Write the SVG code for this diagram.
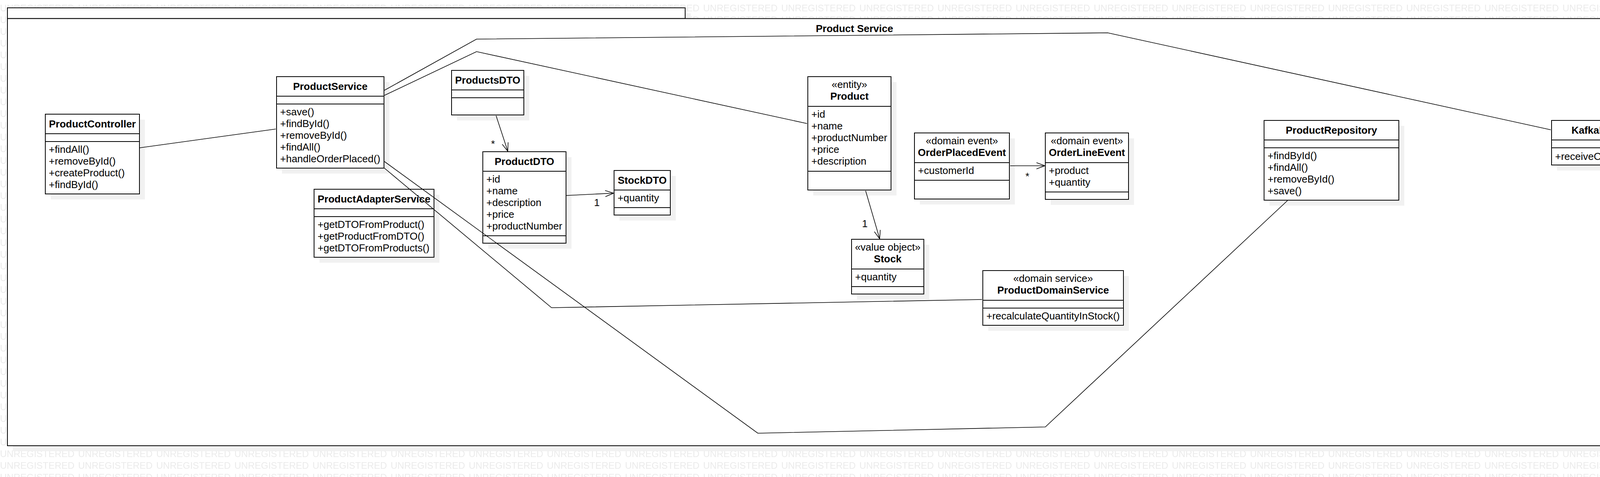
<svg xmlns="http://www.w3.org/2000/svg" width="4436" height="1220" viewBox="0 0 4436 1220">
<defs>
<style>
text{font-family:"Liberation Sans",Arial,Helvetica,sans-serif;font-size:26px;fill:#000}
.n{font-weight:bold;text-anchor:middle}
.st{text-anchor:middle}
.c{text-anchor:middle}
.box{fill:#fff;stroke:#000;stroke-width:2}
.sh{fill:#f1f1f1}
.dv{stroke:#000;stroke-width:2}
.cn{fill:none;stroke:#000;stroke-width:1.6}
.wm{font-size:24px;fill:#ebebeb}
</style>
<pattern id="wmp" patternUnits="userSpaceOnUse" x="0" y="0" width="200" height="30"><text class="wm" x="0" y="29">UNREGISTERED</text></pattern>
<marker id="ar" markerUnits="userSpaceOnUse" viewBox="-24 -10 26 20" refX="0" refY="0" markerWidth="26" markerHeight="20" orient="auto" overflow="visible"><path d="M-21.6,-7.9 L0,0 L-21.6,7.9" fill="none" stroke="#000" stroke-width="1.6"/></marker>
</defs>
<rect x="0" y="0" width="4436" height="1220" fill="#fff"/>
<rect x="0" y="0" width="4436" height="1220" fill="url(#wmp)"/>

<g id="package-ProductService">
<rect class="sh" x="33" y="34" width="1735" height="27.5"/>
<rect class="sh" x="33" y="61.5" width="4337" height="1092.5"/>
<rect class="box" x="19" y="20" width="1735" height="27.5"/>
<rect class="box" x="19" y="47.5" width="4337" height="1092.5"/>
<text class="n" x="2187.5" y="82">Product Service</text>
</g>

<g id="ProductController">
<rect class="sh" x="130" y="306" width="241" height="204"/>
<rect class="box" x="116" y="292" width="241" height="204"/>
<line class="dv" x1="116" y1="342" x2="357" y2="342"/>
<line class="dv" x1="116" y1="362" x2="357" y2="362"/>
<text class="n" x="236.5" y="326">ProductController</text>
<text x="125" y="391">+findAll()</text>
<text x="125" y="421">+removeById()</text>
<text x="125" y="451">+createProduct()</text>
<text x="125" y="481">+findById()</text>
</g>

<g id="ProductService">
<rect class="sh" x="722" y="210" width="275" height="234"/>
<rect class="box" x="708" y="196" width="275" height="234"/>
<line class="dv" x1="708" y1="246" x2="983" y2="246"/>
<line class="dv" x1="708" y1="266" x2="983" y2="266"/>
<text class="n" x="845.5" y="230">ProductService</text>
<text x="717" y="295">+save()</text>
<text x="717" y="325">+findById()</text>
<text x="717" y="355">+removeById()</text>
<text x="717" y="385">+findAll()</text>
<text x="717" y="415">+handleOrderPlaced()</text>
</g>

<g id="ProductAdapterService">
<rect class="sh" x="818" y="498" width="307" height="174"/>
<rect class="box" x="804" y="484" width="307" height="174"/>
<line class="dv" x1="804" y1="534" x2="1111" y2="534"/>
<line class="dv" x1="804" y1="554" x2="1111" y2="554"/>
<text class="n" x="957.5" y="518">ProductAdapterService</text>
<text x="813" y="583">+getDTOFromProduct()</text>
<text x="813" y="613">+getProductFromDTO()</text>
<text x="813" y="643">+getDTOFromProducts()</text>
</g>

<g id="ProductsDTO">
<rect class="sh" x="1170" y="194" width="185" height="114"/>
<rect class="box" x="1156" y="180" width="185" height="114"/>
<line class="dv" x1="1156" y1="230" x2="1341" y2="230"/>
<line class="dv" x1="1156" y1="250" x2="1341" y2="250"/>
<text class="n" x="1248.5" y="214">ProductsDTO</text>
</g>

<g id="ProductDTO">
<rect class="sh" x="1250" y="402" width="213" height="234"/>
<rect class="box" x="1236" y="388" width="213" height="234"/>
<line class="dv" x1="1236" y1="438" x2="1449" y2="438"/>
<line class="dv" x1="1236" y1="603" x2="1449" y2="603"/>
<text class="n" x="1342.5" y="422">ProductDTO</text>
<text x="1245" y="467">+id</text>
<text x="1245" y="497">+name</text>
<text x="1245" y="527">+description</text>
<text x="1245" y="557">+price</text>
<text x="1245" y="587">+productNumber</text>
</g>

<g id="StockDTO">
<rect class="sh" x="1586" y="450" width="144" height="114"/>
<rect class="box" x="1572" y="436" width="144" height="114"/>
<line class="dv" x1="1572" y1="486" x2="1716" y2="486"/>
<line class="dv" x1="1572" y1="531" x2="1716" y2="531"/>
<text class="n" x="1644" y="470">StockDTO</text>
<text x="1581" y="515">+quantity</text>
</g>

<g id="Product">
<rect class="sh" x="2082" y="210" width="213" height="290"/>
<rect class="box" x="2068" y="196" width="213" height="290"/>
<line class="dv" x1="2068" y1="272" x2="2281" y2="272"/>
<line class="dv" x1="2068" y1="438" x2="2281" y2="438"/>
<text class="st" x="2174.5" y="225.4">«entity»</text>
<text class="n" x="2174.5" y="255.4">Product</text>
<text x="2077" y="301">+id</text>
<text x="2077" y="331">+name</text>
<text x="2077" y="361">+productNumber</text>
<text x="2077" y="391">+price</text>
<text x="2077" y="421">+description</text>
</g>

<g id="Stock">
<rect class="sh" x="2194" y="626" width="185" height="140"/>
<rect class="box" x="2180" y="612" width="185" height="140"/>
<line class="dv" x1="2180" y1="688" x2="2365" y2="688"/>
<line class="dv" x1="2180" y1="733" x2="2365" y2="733"/>
<text class="st" x="2272.5" y="641.4">«value object»</text>
<text class="n" x="2272.5" y="671.4">Stock</text>
<text x="2189" y="717">+quantity</text>
</g>

<g id="OrderPlacedEvent">
<rect class="sh" x="2355" y="354" width="243" height="169"/>
<rect class="box" x="2341" y="340" width="243" height="169"/>
<line class="dv" x1="2341" y1="416" x2="2584" y2="416"/>
<line class="dv" x1="2341" y1="461" x2="2584" y2="461"/>
<text class="st" x="2462.5" y="369.4">«domain event»</text>
<text class="n" x="2462.5" y="399.4">OrderPlacedEvent</text>
<text x="2350" y="445">+customerId</text>
</g>

<g id="OrderLineEvent">
<rect class="sh" x="2690" y="354" width="213" height="170"/>
<rect class="box" x="2676" y="340" width="213" height="170"/>
<line class="dv" x1="2676" y1="416" x2="2889" y2="416"/>
<line class="dv" x1="2676" y1="491" x2="2889" y2="491"/>
<text class="st" x="2782.5" y="369.4">«domain event»</text>
<text class="n" x="2782.5" y="399.4">OrderLineEvent</text>
<text x="2685" y="445">+product</text>
<text x="2685" y="475">+quantity</text>
</g>

<g id="ProductDomainService">
<rect class="sh" x="2530" y="706" width="360" height="140"/>
<rect class="box" x="2516" y="692" width="360" height="140"/>
<line class="dv" x1="2516" y1="768" x2="2876" y2="768"/>
<line class="dv" x1="2516" y1="788" x2="2876" y2="788"/>
<text class="st" x="2696" y="721.4">«domain service»</text>
<text class="n" x="2696" y="751.4">ProductDomainService</text>
<text x="2525" y="817">+recalculateQuantityInStock()</text>
</g>

<g id="ProductRepository">
<rect class="sh" x="3250" y="322" width="345" height="204"/>
<rect class="box" x="3236" y="308" width="345" height="204"/>
<line class="dv" x1="3236" y1="358" x2="3581" y2="358"/>
<line class="dv" x1="3236" y1="378" x2="3581" y2="378"/>
<text class="n" x="3408.5" y="342">ProductRepository</text>
<text x="3245" y="407">+findById()</text>
<text x="3245" y="437">+findAll()</text>
<text x="3245" y="467">+removeById()</text>
<text x="3245" y="497">+save()</text>
</g>

<g id="KafkaReceiver">
<rect class="sh" x="3986" y="322" width="281" height="114"/>
<rect class="box" x="3972" y="308" width="281" height="114"/>
<line class="dv" x1="3972" y1="358" x2="4253" y2="358"/>
<line class="dv" x1="3972" y1="378" x2="4253" y2="378"/>
<text class="n" x="4112.5" y="342">KafkaReceiver</text>
<text x="3981" y="409">+receiveOrderPlaced()</text>
</g>

<g id="connectors">
<polyline class="cn" points="358,378 706,330"/>
<polyline class="cn" points="984,231 1220,100 2836,84 3970,332"/>
<polyline class="cn" points="984,244 1220,132 2066,316"/>
<polyline class="cn" points="984,413 1940,1108 2676,1092 3296,513"/>
<polyline class="cn" points="984,430 1412,787 2514,766"/>
<line class="cn" x1="1270" y1="296" x2="1300" y2="387" marker-end="url(#ar)"/>
<text class="c" x="1262" y="377">*</text>
<line class="cn" x1="1450" y1="500" x2="1571" y2="494" marker-end="url(#ar)"/>
<text class="c" x="1528" y="527">1</text>
<line class="cn" x1="2216" y1="488" x2="2252" y2="611" marker-end="url(#ar)"/>
<text class="c" x="2214" y="581">1</text>
<line class="cn" x1="2586" y1="424" x2="2675" y2="424" marker-end="url(#ar)"/>
<text class="c" x="2630" y="460">*</text>
</g>
</svg>
